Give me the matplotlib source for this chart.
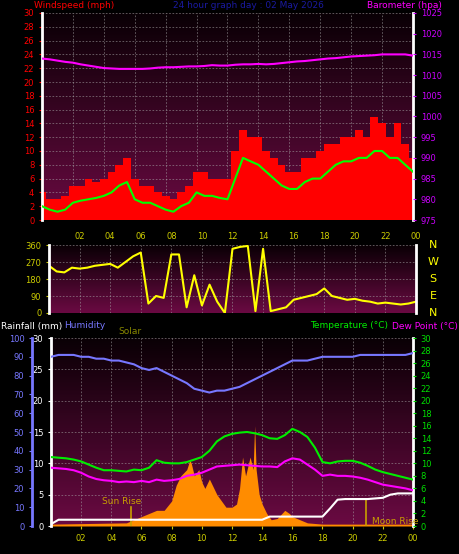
import numpy as np
import matplotlib
matplotlib.use("Agg")
import matplotlib.pyplot as plt
from matplotlib.colors import LinearSegmentedColormap

hours = np.arange(0, 24.5, 0.5)
wind_avg = [2,1.5,1.2,1.5,2.5,2.8,3,3.2,3.5,4,5,5.5,3,2.5,2.5,2,1.5,1.2,2,2.5,4,3.5,3.5,3.2,3,6,9,8.5,8,7,6,5,4.5,4.5,5.5,6,6,7,8,8.5,8.5,9,9,10,10,9,9,8,7]
wind_gust = [4,3,3,3.5,5,5,6,5.5,6,7,8,9,6,5,5,4,3.5,3,4,5,7,7,6,6,6,10,13,12,12,10,9,8,7,7,9,9,10,11,11,12,12,13,12,15,14,12,14,11,9]
baro = [1014,1013.8,1013.5,1013.2,1013,1012.6,1012.3,1012,1011.7,1011.6,1011.5,1011.5,1011.5,1011.5,1011.6,1011.8,1011.9,1011.9,1012,1012.1,1012.1,1012.2,1012.4,1012.3,1012.3,1012.5,1012.6,1012.6,1012.7,1012.6,1012.7,1012.9,1013.1,1013.3,1013.4,1013.6,1013.8,1014,1014.1,1014.3,1014.5,1014.6,1014.7,1014.8,1015,1015,1015,1015,1014.7]
wdir = [250,220,215,240,235,240,250,255,260,240,270,300,320,50,90,80,310,310,30,200,40,150,60,0,340,350,355,10,340,10,20,30,70,80,90,100,130,90,80,70,75,65,60,50,55,50,45,50,60]
humidity = [90,91,91,91,90,90,89,89,88,88,87,86,84,83,84,82,80,78,76,73,72,71,72,72,73,74,76,78,80,82,84,86,88,88,88,89,90,90,90,90,90,91,91,91,91,91,91,91,92]
temp = [11,10.9,10.8,10.6,10.3,9.8,9.3,8.9,8.9,8.8,8.7,9,8.9,9.3,10.5,10.1,10,10,10.2,10.6,11,12,13.5,14.3,14.7,14.9,15,14.8,14.5,14,13.9,14.5,15.5,15,14.2,12.5,10.2,10,10.3,10.4,10.4,10.1,9.6,9,8.6,8.3,8,7.7,7.4]
dew = [9.3,9.2,9.1,8.9,8.5,7.9,7.5,7.3,7.2,7,7.1,7,7.2,7,7.4,7.2,7.3,7.5,8,8.2,8.5,9,9.5,9.6,9.7,9.8,9.7,9.6,9.5,9.5,9.4,10.3,10.8,10.6,9.8,9,8,8.2,8,8,7.9,7.7,7.4,7,6.6,6.4,6.2,6,5.7]
rain = [0.3,1,1,1,1,1,1,1,1,1,1,1,1,1,1,1,1,1,1,1,1,1,1,1,1,1,1,1,1,1.5,1.5,1.5,1.5,1.5,1.5,1.5,1.5,2.8,4.2,4.3,4.3,4.3,4.3,4.4,4.5,5,5.2,5.2,5.2]
solar_hours = [0,5,6,7,7.5,8,8.3,8.6,9,9.2,9.3,9.5,9.8,10,10.2,10.5,10.8,11,11.3,11.6,12,12.3,12.5,12.7,12.9,13,13.2,13.4,13.5,13.6,13.8,14,14.3,14.6,15,15.5,15.8,16,16.5,17,18,24]
solar = [0.3,0.5,1.5,2.5,2.5,4,6.5,8,9,10.5,10,8,9,7,6,7.5,6,5,4,3,3,3.5,6,11,8,9,11,9,16,9,5,3.5,2,1,1.2,2.5,2,1.5,1,0.5,0.3,0.3]
tick_hours = [2,4,6,8,10,12,14,16,18,20,22,24]
tick_labels = ["02","04","06","08","10","12","14","16","18","20","22","00"]

W, H = 460, 554
fig = plt.figure(figsize=(W/100, H/100), dpi=100, facecolor="black")
cmap = LinearSegmentedColormap.from_list("bg", ["#0a0005", "#6a0a42"])

def mkax(x0, y0, x1, y1):
    ax = fig.add_axes([x0/W, 1-y1/H, (x1-x0)/W, (y1-y0)/H])
    ax.set_facecolor("black")
    ax.imshow(np.linspace(0, 1, 100).reshape(-1, 1), aspect="auto", cmap=cmap,
              extent=[0, 24, 0, 1], transform=ax.transAxes, origin="upper", zorder=0)
    ax.set_xlim(0, 24)
    ax.set_xticks(tick_hours)
    ax.grid(True, color="#aaaaaa", ls=(0, (2, 2)), lw=0.6, alpha=0.6)
    for s in ax.spines.values():
        s.set_visible(False)
    ax.spines["left"].set_visible(True); ax.spines["left"].set_color("white"); ax.spines["left"].set_linewidth(2)
    ax.spines["right"].set_visible(True); ax.spines["right"].set_color("white"); ax.spines["right"].set_linewidth(2)
    ax.tick_params(labelsize=6, length=2)
    return ax

# Panel 1
ax1 = mkax(42, 13, 413, 220)
ax1.set_ylim(0, 30)
ax1.set_yticks(range(0, 31, 2))
ax1.tick_params(axis="y", colors="red")
ax1.bar(hours, wind_gust, width=0.5, color="red", zorder=2)
ax1.plot(hours, wind_avg, color="#00ff00", lw=1.5, zorder=3)
ax1.set_xticklabels([])
ax1.tick_params(axis="x", length=0)
ax1b = ax1.twinx()
ax1b.set_ylim(975, 1025)
ax1b.set_yticks(range(975, 1026, 5))
ax1b.tick_params(axis="y", colors="#cc00ff", labelsize=6, length=2)
for s in ax1b.spines.values(): s.set_visible(False)
ax1b.plot(hours, baro, color="#ff00ff", lw=1.5)
fig.text(34/W, 1-5/H, "Windspeed (mph)", color="red", fontsize=6.5, va="center")
fig.text(248/W, 1-5/H, "24 hour graph day : 02 May 2026", color="#1a1aa0", fontsize=6.5, va="center", ha="center")
fig.text(442/W, 1-5/H, "Barometer (hpa)", color="#ff00ff", fontsize=6.5, va="center", ha="right")

# Panel 2
ax2 = mkax(49, 245, 416, 313)
ax2.set_ylim(0, 360)
ax2.set_yticks([0, 90, 180, 270, 360])
ax2.tick_params(axis="y", colors="#cccc00")
ax2.plot(hours, wdir, color="yellow", lw=1.5)
ax2.xaxis.tick_top()
ax2.set_xticklabels(tick_labels)
ax2.tick_params(axis="x", colors="#cccc00", length=0, pad=3)
for i, c in enumerate("NWSEN"):
    fig.text(433/W, 1-(245+i*17)/H, c, color="yellow", fontsize=8, ha="center", va="center")

# Panel 3
ax3 = mkax(51, 338, 413, 526)
ax3.set_ylim(0, 30)
ax3.set_yticks(range(0, 31, 5))
ax3.tick_params(axis="y", colors="white")
ax3.fill_between(solar_hours, 0, solar, color="#ff8c00", lw=0, zorder=2)
ax3.plot(hours, [h*0.3 for h in humidity], color="#7777ff", lw=1.5, zorder=3)
ax3.plot(hours, temp, color="#00ee00", lw=1.5, zorder=3)
ax3.plot(hours, dew, color="#ff00ff", lw=1.5, zorder=3)
ax3.plot(hours, rain, color="white", lw=1.5, zorder=4)
ax3.set_xticklabels(tick_labels)
ax3.tick_params(axis="x", colors="#cccc00")
ax3.axvline(5.3, ymax=0.1, color="#c8a000", lw=1.2, zorder=3)
ax3.axvline(20.9, ymax=0.14, color="#c8a000", lw=1.2, zorder=3)
ax3.text(4.7, 3.5, "Sun Rise", color="#c8a000", fontsize=6.5, ha="center")
ax3.text(22.8, 0.3, "Moon Rise", color="#c8a000", fontsize=6.5, ha="center")
ax3c = ax3.twinx()
ax3c.set_ylim(0, 30)
ax3c.set_yticks(range(0, 31, 2))
ax3c.tick_params(axis="y", colors="#00dd00", labelsize=6, length=2)
for s in ax3c.spines.values(): s.set_visible(False)
axh = fig.add_axes([32/W, 1-526/H, 0.001, 188/H])
axh.set_ylim(0, 100); axh.set_xticks([])
axh.set_yticks(range(0, 101, 10))
axh.tick_params(axis="y", colors="#7777ff", labelsize=6, length=2)
for s in axh.spines.values(): s.set_visible(False)
axh.spines["left"].set_visible(True); axh.spines["left"].set_color("#7777ff"); axh.spines["left"].set_linewidth(2)
fig.text(1/W, 1-326/H, "Rainfall (mm)", color="white", fontsize=6.5, va="center")
fig.text(64/W, 1-326/H, "Humidity", color="#7777ff", fontsize=6.5, va="center")
fig.text(118/W, 1-331/H, "Solar", color="#888800", fontsize=6.5, va="center")
fig.text(388/W, 1-326/H, "Temperature (°C)", color="#00ee00", fontsize=6.5, va="center", ha="right")
fig.text(458/W, 1-326/H, "Dew Point (°C)", color="#ff00ff", fontsize=6.5, va="center", ha="right")

fig.savefig("out.png", dpi=100, facecolor="black")
